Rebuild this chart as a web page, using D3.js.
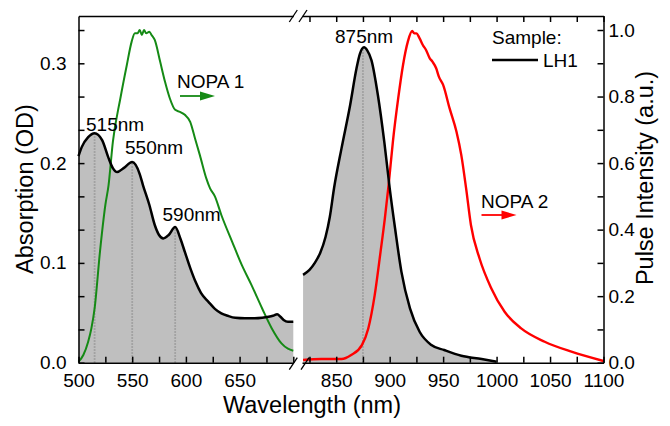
<!DOCTYPE html>
<html>
<head>
<meta charset="utf-8">
<script src="https://cdn.jsdelivr.net/npm/d3@7"></script>
<style>
	body { margin: 0; background: #fff; }
	svg { font-family: 'Liberation Sans', Arial, Helvetica, sans-serif; }
	.axis path, .axis line { stroke: #000; stroke-width: 1.5; }
	.axis text { font-size: 19px; fill: #000; font-family: 'Liberation Sans', Arial, sans-serif; }
</style>
</head>
<body>
<svg id="chart"></svg>
<script>
// LH1 absorption, 500-700 nm (left axis, OD)
const absLeftNm = [500, 503, 509, 515, 522, 528, 532, 536, 542, 550, 557, 560, 566, 571, 575, 579, 584, 590, 595, 599, 604, 609, 614, 621, 627, 633, 639, 646, 655, 664, 671, 677, 681, 685, 688, 691, 695, 700];
const absLeftOD = [0.207, 0.216, 0.226, 0.230, 0.223, 0.205, 0.195, 0.191, 0.195, 0.201, 0.189, 0.178, 0.158, 0.138, 0.128, 0.1245, 0.128, 0.136, 0.124, 0.111, 0.095, 0.081, 0.070, 0.061, 0.054, 0.0495, 0.047, 0.045, 0.0445, 0.0445, 0.045, 0.046, 0.047, 0.0485, 0.046, 0.0428, 0.041, 0.041];

// LH1 absorption, 819-1000 nm
const absRightNm = [819, 825, 830, 835, 840, 844, 848, 855, 863, 869, 872, 876, 879, 883, 889, 895, 900, 905, 911, 919, 928, 939, 951, 967, 986, 1000];
const absRightOD = [0.088, 0.093, 0.100, 0.110, 0.126, 0.146, 0.175, 0.215, 0.258, 0.295, 0.309, 0.316, 0.313, 0.303, 0.268, 0.221, 0.175, 0.135, 0.091, 0.0545, 0.031, 0.0177, 0.0127, 0.007, 0.0037, 0.001];

// NOPA 1 pulse spectrum (right axis)
const nopa1Nm = [500, 504.5, 509, 512, 515, 520, 525, 528, 532, 539, 545, 549.5, 552.5, 555, 557, 559, 561, 563, 566, 568, 571, 576, 580.5, 585, 590, 594.5, 599, 604, 608.5, 613, 619, 622.5, 627, 633, 643, 652, 661, 671, 680, 689, 695, 700];
const nopa1I = [0.003, 0.023, 0.063, 0.103, 0.163, 0.334, 0.474, 0.534, 0.664, 0.795, 0.895, 0.965, 0.99, 0.99, 1.0, 0.985, 1.0, 0.99, 0.995, 0.985, 0.97, 0.905, 0.845, 0.795, 0.76, 0.754, 0.745, 0.724, 0.674, 0.624, 0.554, 0.524, 0.50, 0.444, 0.364, 0.294, 0.234, 0.163, 0.103, 0.058, 0.042, 0.036];

// NOPA 2 pulse spectrum (right axis)
const nopa2Nm = [819, 836, 855, 864, 874, 880, 886, 891.5, 895.5, 899, 903, 908, 912.5, 917, 921, 923, 925, 928, 931, 934, 937.5, 940, 943.5, 946, 950, 956, 962.5, 967, 971.5, 976, 984, 995, 1007.5, 1023, 1045, 1070, 1100];
const nopa2I = [0.008, 0.011, 0.011, 0.023, 0.053, 0.103, 0.203, 0.334, 0.434, 0.534, 0.664, 0.795, 0.895, 0.965, 0.997, 0.99, 0.99, 0.975, 0.955, 0.94, 0.915, 0.905, 0.885, 0.86, 0.835, 0.765, 0.694, 0.624, 0.524, 0.414, 0.314, 0.224, 0.153, 0.103, 0.063, 0.033, 0.005];

// marked absorption peaks
const peaksLeft = [515, 550, 590];
const peaksRight = [875];

const width = 670, height = 426;
const yBottom = 362.7, yTop = 16;

const xL = d3.scaleLinear().domain([500, 700]).range([78.5, 293.3]);
const xR = d3.scaleLinear().domain([818, 1100]).range([302, 603.5]);
const yL = d3.scaleLinear().domain([0, 0.3474]).range([yBottom, yTop]);
const yR = d3.scaleLinear().domain([0, 1.0421]).range([yBottom, yTop]);

const zip = (xs, ys) => xs.map((x, i) => ({ x: x, y: ys[i] }));

const canvas = d3.select('#chart')
	.attr('width', width)
	.attr('height', height);

canvas.append('rect')
	.attr('width', width)
	.attr('height', height)
	.attr('fill', '#fff');

const drawAbs = (data, xs) => {
	const area = d3.area()
		.x(d => xs(d.x))
		.y0(yL(0))
		.y1(d => yL(d.y))
		.curve(d3.curveMonotoneX);
	const line = d3.line()
		.x(d => xs(d.x))
		.y(d => yL(d.y))
		.curve(d3.curveMonotoneX);

	canvas.append('path')
		.datum(data)
		.attr('d', area)
		.attr('fill', '#bfbfbf');
	return line;
}

const absLeft = zip(absLeftNm, absLeftOD);
const absRight = zip(absRightNm, absRightOD);
const lineL = drawAbs(absLeft, xL);
const lineR = drawAbs(absRight, xR);

// dotted lines from baseline up to each peak
const interp = (data, nm) => {
	const i = d3.bisector(d => d.x).left(data, nm);
	if (i <= 0) return data[0].y;
	const a = data[i - 1], b = data[i];
	return a.y + (b.y - a.y) * (nm - a.x) / (b.x - a.x);
}

const drawPeaks = (peaks, data, xs) => {
	canvas.selectAll(null)
		.data(peaks)
		.enter()
		.append('line')
		.attr('x1', d => xs(d))
		.attr('x2', d => xs(d))
		.attr('y1', yL(0))
		.attr('y2', d => yL(interp(data, d)))
		.attr('stroke', '#999')
		.attr('stroke-width', 1.8)
		.attr('stroke-dasharray', '1.5,1.5');
}
drawPeaks(peaksLeft, absLeft, xL);
drawPeaks(peaksRight, absRight, xR);

const lineFor = xs => d3.line()
	.x(d => xs(d.x))
	.y(d => yR(d.y))
	.curve(d3.curveMonotoneX);

canvas.append('path')
	.datum(zip(nopa1Nm, nopa1I))
	.attr('d', lineFor(xL))
	.attr('fill', 'none')
	.attr('stroke', '#158a15')
	.attr('stroke-width', 2);

canvas.append('path')
	.datum(zip(nopa2Nm, nopa2I))
	.attr('d', lineFor(xR))
	.attr('fill', 'none')
	.attr('stroke', '#ff0000')
	.attr('stroke-width', 2.4);

canvas.append('path')
	.datum(absLeft)
	.attr('d', lineL)
	.attr('fill', 'none')
	.attr('stroke', '#000')
	.attr('stroke-width', 2.5);

canvas.append('path')
	.datum(absRight)
	.attr('d', lineR)
	.attr('fill', 'none')
	.attr('stroke', '#000')
	.attr('stroke-width', 2.5);

// axes
const fmtNm = d => d % 50 === 0 ? d : '';

canvas.append('g')
	.attr('class', 'x axis')
	.attr('transform', `translate(0,${yBottom})`)
	.call(d3.axisBottom(xL)
		.tickValues(d3.range(500, 701, 25))
		.tickFormat(d => (d % 50 === 0 && d < 700) ? d : '')
		.tickSizeInner(-6).tickSizeOuter(0).tickPadding(11));

canvas.append('g')
	.attr('class', 'x axis')
	.attr('transform', `translate(0,${yBottom})`)
	.call(d3.axisBottom(xR)
		.tickValues(d3.range(825, 1101, 25))
		.tickFormat(fmtNm)
		.tickSizeInner(-6).tickSizeOuter(0).tickPadding(11));

canvas.append('g')
	.attr('class', 'x axis')
	.attr('transform', `translate(0,${yTop})`)
	.call(d3.axisTop(xL).tickValues([]).tickSizeOuter(0));

canvas.append('g')
	.attr('class', 'x axis')
	.attr('transform', `translate(0,${yTop})`)
	.call(d3.axisTop(xR)
		.tickValues(d3.range(825, 1101, 25))
		.tickFormat('')
		.tickSizeInner(-6).tickSizeOuter(0));

canvas.append('g')
	.attr('class', 'y axis')
	.attr('transform', `translate(${xL.range()[0]},0)`)
	.call(d3.axisLeft(yL)
		.tickValues(d3.range(0, 11).map(i => i / 30))
		.tickFormat(d => Math.abs(d * 10 - Math.round(d * 10)) < 1e-6 ? d3.format('.1f')(d) : '')
		.tickSizeInner(-6).tickSizeOuter(0).tickPadding(12));

canvas.append('g')
	.attr('class', 'y axis')
	.attr('transform', `translate(${xR.range()[1]},0)`)
	.call(d3.axisRight(yR)
		.tickValues(d3.range(0, 11).map(i => i / 10))
		.tickFormat(d => Math.round(d * 10) % 2 === 0 ? d3.format('.1f')(d) : '')
		.tickSizeInner(-6).tickSizeOuter(0).tickPadding(5));

// axis break marks
const breaks = [
	[xL.range()[1], yTop], [xR.range()[0] + 1, yTop],
	[xL.range()[1], yBottom + 1], [xR.range()[0] + 3, yBottom + 1]
];
canvas.selectAll(null)
	.data(breaks)
	.enter()
	.append('line')
	.attr('x1', d => d[0] - 4)
	.attr('y1', d => d[1] + 6)
	.attr('x2', d => d[0] + 4)
	.attr('y2', d => d[1] - 6)
	.attr('stroke', '#000')
	.attr('stroke-width', 1.3);

// axis titles
canvas.append('text')
	.attr('x', 312)
	.attr('y', 413)
	.attr('text-anchor', 'middle')
	.attr('font-size', 23.5)
	.text('Wavelength (nm)');

canvas.append('text')
	.attr('transform', 'translate(33,189) rotate(-90)')
	.attr('text-anchor', 'middle')
	.attr('font-size', 23.5)
	.text('Absorption (OD)');

canvas.append('text')
	.attr('transform', 'translate(653,178) rotate(-90)')
	.attr('text-anchor', 'middle')
	.attr('font-size', 23.5)
	.text('Pulse Intensity (a.u.)');

// peak labels
const label = (x, y, txt) => canvas.append('text')
	.attr('x', x)
	.attr('y', y)
	.attr('font-size', 19)
	.text(txt);

label(86, 131, '515nm');
label(125, 153.5, '550nm');
label(162.5, 220.5, '590nm');
label(335, 42.5, '875nm');

// NOPA labels with arrows
const arrow = (x, y, color) => {
	canvas.append('line')
		.attr('x1', x).attr('y1', y)
		.attr('x2', x + 22).attr('y2', y)
		.attr('stroke', color)
		.attr('stroke-width', 1.8);
	canvas.append('path')
		.attr('d', `M${x + 20},${y - 4.5}L${x + 35},${y}L${x + 20},${y + 4.5}Z`)
		.attr('fill', color);
}
label(177, 88, 'NOPA 1');
arrow(180, 96, '#158a15');
label(481, 208, 'NOPA 2');
arrow(481.5, 215, '#ff0000');

// legend
label(492, 44, 'Sample:');
canvas.append('line')
	.attr('x1', 492).attr('x2', 538)
	.attr('y1', 60).attr('y2', 60)
	.attr('stroke', '#000')
	.attr('stroke-width', 2.5);
label(543, 67, 'LH1');
</script>
</body>
</html>
